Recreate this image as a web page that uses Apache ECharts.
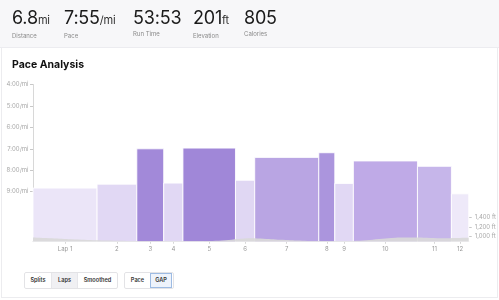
<!DOCTYPE html>
<html>
<head>
<meta charset="utf-8">
<script src="https://cdn.jsdelivr.net/npm/echarts@6/dist/echarts.min.js"></script>
<style>
  html,body{margin:0;padding:0;background:#fff;font-family:Inter,"Liberation Sans",sans-serif;}
  #wrap{position:relative;width:499px;height:300px;overflow:hidden;}
  #chart{position:absolute;left:0;top:0;width:499px;height:300px;}
  #hdr{position:absolute;left:0;top:0;width:499px;height:47px;background:#f7f7f9;border-bottom:1px solid #ececf0;}
  .stat{position:absolute;top:8px;color:#1a1a1a;white-space:nowrap;}
  .stat .big{font-size:18px;line-height:20px;letter-spacing:-0.2px;font-weight:400;}
  .stat .unit{font-size:11px;color:#333;}
  .stat .lbl{font-size:6px;color:#8a8a8a;margin-top:2px;line-height:7px;}
  #title{position:absolute;left:12px;top:58px;font-size:10.5px;font-weight:700;color:#111;}
  .grp{position:absolute;top:272px;height:15px;display:flex;border:1px solid #e3e3e6;border-radius:2px;background:#fff;}
  .grp div{font-size:5.6px;color:#333;font-weight:600;line-height:15px;text-align:center;}
  #card{position:absolute;left:1px;top:48px;width:495px;height:249px;border:1px solid #ececef;border-top:none;pointer-events:none;}
</style>
</head>
<body>
<div id="wrap">
  <div id="chart"></div>
  <div id="card"></div>
  <div id="hdr">
    <div class="stat" style="left:12px"><div class="big">6.8<span class="unit">mi</span></div><div class="lbl">Distance</div></div>
    <div class="stat" style="left:64px"><div class="big">7:55<span class="unit">/mi</span></div><div class="lbl">Pace</div></div>
    <div class="stat" style="left:133px"><div class="big">53:53</div><div class="lbl">Run Time</div></div>
    <div class="stat" style="left:193px"><div class="big">201<span class="unit">ft</span></div><div class="lbl">Elevation</div></div>
    <div class="stat" style="left:244px"><div class="big">805</div><div class="lbl">Calories</div></div>
  </div>
  <div id="title">Pace Analysis</div>
  <div class="grp" style="left:24px;width:92px;">
    <div style="width:26px">Splits</div>
    <div style="width:25px;background:#f0f0f3;border-left:1px solid #e6e6ea;border-right:1px solid #e6e6ea">Laps</div>
    <div style="width:39px">Smoothed</div>
  </div>
  <div class="grp" style="left:124px;width:48px;">
    <div style="width:25px">Pace</div>
    <div style="width:22px;background:#eef3fb;box-shadow:inset 0 0 0 1px #9dbbe3;">GAP</div>
  </div>
</div>
<script>
// ---- data ----
const lapNames = ['Lap 1','2','3','4','5','6','7','8','9','10','11','12'];
const lapDistances = [1.0,0.62,0.42,0.30,0.82,0.30,1.0,0.25,0.29,1.0,0.53,0.27];
const lapPaceSec = [530,519,420,516,418,508,444,431,517,454,469,546];
const paceTicks = [240,300,360,420,480,540];
const elevTicks = [1000,1200,1400];
const elevDist = [0,0.3,0.6,1.0,1.3,1.6,2.0,2.4,2.8,3.0,3.2,3.4,3.6,3.9,4.2,4.5,4.8,5.0,5.2,5.4,5.6,5.8,6.0,6.2,6.4,6.6,6.8];
const elevFt   = [968,950,928,905,895,890,888,886,890,905,935,952,942,915,895,888,888,890,905,935,958,966,965,958,952,957,962];

// ---- styles ----
const colorStops = [[418,[160,135,216]],[431,[171,149,221]],[444,[185,165,227]],[454,[191,170,231]],[469,[198,182,234]],[508,[224,215,243]],[519,[225,216,244]],[530,[235,229,248]],[546,[238,233,249]]];
function paceColor(p){
  if(p<=colorStops[0][0]) return 'rgb('+colorStops[0][1].join(',')+')';
  for(let i=1;i<colorStops.length;i++){
    if(p<=colorStops[i][0]){
      const a=colorStops[i-1], b=colorStops[i];
      const t=(p-a[0])/(b[0]-a[0]);
      const c=a[1].map((v,k)=>Math.round(v+(b[1][k]-v)*t));
      return 'rgb('+c.join(',')+')';
    }
  }
  return 'rgb('+colorStops[colorStops.length-1][1].join(',')+')';
}

const starts=[], ends=[], centers=[];
let acc=0;
lapDistances.forEach(d=>{starts.push(acc); acc+=d; ends.push(acc); centers.push(acc-d/2);});
const totalDist = Math.round(acc*100)/100;
const paceMin = 240, paceMax = 680;

function fmtPace(v){const m=Math.floor(v/60), s=Math.round(v%60); return m+':'+(s<10?'0':'')+s+'/mi';}

const chart = echarts.init(document.getElementById('chart'), null, {renderer:'canvas'});
const font = 'Inter';
chart.setOption({
  animation:false,
  grid:{left:33, right:29.7, top:84.5, bottom:58.3},
  xAxis:{
    type:'value', min:0, max:totalDist,
    axisLine:{show:true, lineStyle:{color:'#d8d8d8', width:1}},
    splitLine:{show:false},
    axisTick:{show:true, customValues:centers, length:2, lineStyle:{color:'#d0d0d0'}},
    axisLabel:{customValues:centers, fontSize:6, color:'#999', fontFamily:font, margin:5,
      formatter:(v)=>{let best=0,bd=1e9; centers.forEach((c,i)=>{const d=Math.abs(c-v); if(d<bd){bd=d;best=i;}}); return lapNames[best];}}
  },
  yAxis:[{
    type:'value', inverse:true, min:paceMin, max:paceMax,
    axisLine:{show:true, lineStyle:{color:'#d8d8d8'}},
    splitLine:{show:false},
    axisTick:{show:true, customValues:paceTicks, length:3, lineStyle:{color:'#c8c8c8'}},
    axisLabel:{customValues:paceTicks, fontSize:6, color:'#a8a8a8', fontFamily:font, margin:4.5, formatter:fmtPace}
  },{
    type:'value', position:'right', min:875, max:4311,
    axisLine:{show:false},
    splitLine:{show:false},
    axisTick:{show:true, customValues:elevTicks, length:3, lineStyle:{color:'#c8c8c8'}},
    axisLabel:{customValues:elevTicks, fontSize:6, color:'#a8a8a8', fontFamily:font, margin:6,
      formatter:(v)=>v.toLocaleString('en-US')+' ft'}
  }],
  series:[{
    type:'custom',
    z:2,
    encode:{x:[0,1], y:2},
    data: lapPaceSec.map((p,i)=>[starts[i], ends[i], p]),
    renderItem:(params, api)=>{
      const p0 = api.coord([api.value(0), api.value(2)]);
      const p1 = api.coord([api.value(1), paceMax]);
      return {type:'rect', shape:{x:p0[0], y:p0[1], width:p1[0]-p0[0], height:p1[1]-p0[1]},
        style:{fill:paceColor(api.value(2)), stroke:'rgba(255,255,255,0.85)', lineWidth:1}};
    }
  },{
    type:'line', yAxisIndex:1, z:3,
    data: elevDist.map((d,i)=>[d, elevFt[i]]),
    smooth:0.4, symbol:'none',
    lineStyle:{width:0},
    areaStyle:{color:'#d9d9d9', opacity:0.92}
  }]
});
</script>
</body>
</html>
